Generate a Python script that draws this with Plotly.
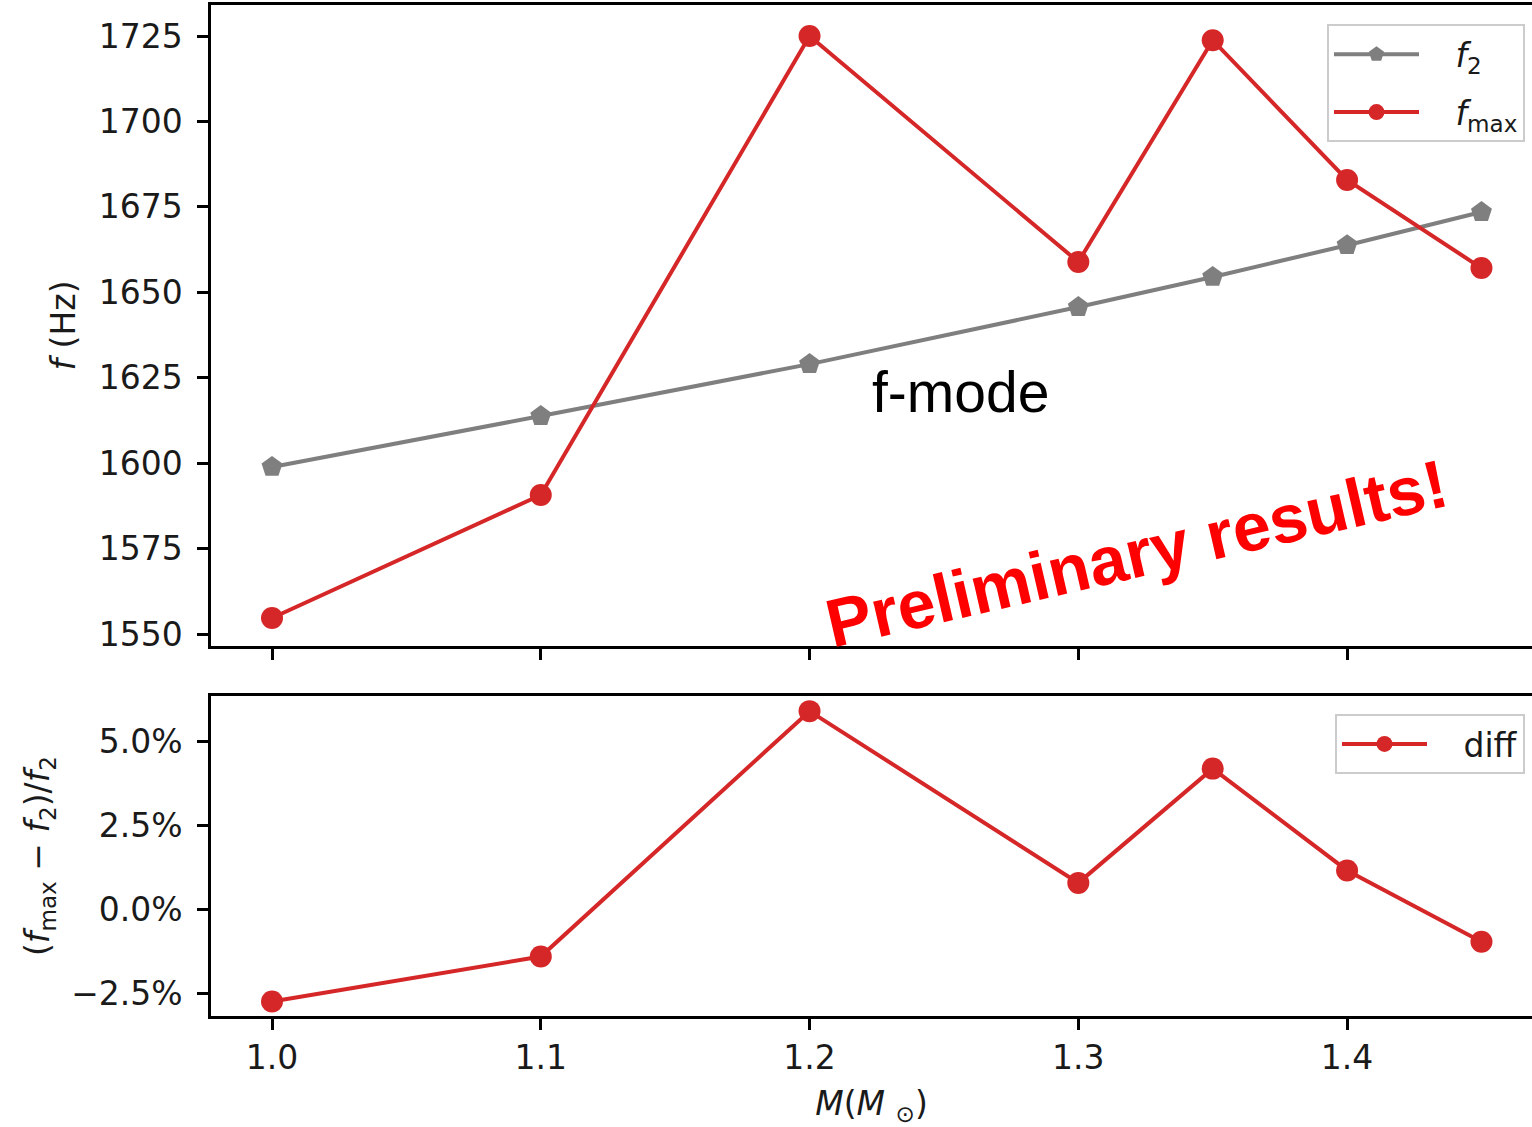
import plotly.graph_objects as go

# Stellar mass (solar masses)
mass = [1.0, 1.1, 1.2, 1.3, 1.35, 1.4, 1.45]
# f-mode frequency f2 and peak frequency fmax (Hz)
f2 = [1598.9, 1613.8, 1629.0, 1645.7, 1654.5, 1663.8, 1673.5]
fmax = [1554.7, 1590.7, 1725.0, 1658.9, 1723.8, 1682.9, 1657.1]
# relative difference (fmax - f2) / f2, in percent
diff_pct = [-2.75, -1.41, 5.89, 0.78, 4.18, 1.15, -0.97]

top_ticks = [1550, 1575, 1600, 1625, 1650, 1675, 1700, 1725]
bottom_ticks = [-2.5, 0.0, 2.5, 5.0]
x_ticks = [1.0, 1.1, 1.2, 1.3, 1.4]

RED = "#d62728"
GRAY = "#7f7f7f"
FONT = "DejaVu Sans"
FS = 33
PAD = "&nbsp;&nbsp;&nbsp;"

fig = go.Figure()
fig.add_trace(go.Scatter(
    x=mass, y=f2, name=PAD + "<i>f</i><sub>2</sub>", mode="lines+markers",
    line=dict(color=GRAY, width=4),
    marker=dict(symbol="pentagon", size=22, color=GRAY),
    xaxis="x2", yaxis="y2", legend="legend", legendgroup="f2",
))
fig.add_trace(go.Scatter(
    x=mass, y=fmax, name=PAD + "<i>f</i><sub>max</sub>", mode="lines+markers",
    line=dict(color=RED, width=4),
    marker=dict(symbol="circle", size=22, color=RED),
    xaxis="x2", yaxis="y2", legend="legend", legendgroup="fmax",
))
fig.add_trace(go.Scatter(
    x=mass, y=diff_pct, name=PAD + "diff", mode="lines+markers",
    line=dict(color=RED, width=4),
    marker=dict(symbol="circle", size=22, color=RED),
    xaxis="x", yaxis="y", legend="legend2",
))

axis_common = dict(
    showline=True, linecolor="black", linewidth=2.5,
    ticks="outside", ticklen=11, tickwidth=2.5, tickcolor="black",
    showgrid=False, zeroline=False,
    tickfont=dict(family=FONT, size=FS, color="#1a1a1a"),
)

xr = [0.9773, 1.4688]

legend_common = dict(
    bgcolor="white", bordercolor="#cccccc", borderwidth=2,
    font=dict(family=FONT, size=FS, color="#1a1a1a"),
    xanchor="right", yanchor="top", itemwidth=85,
    tracegroupgap=12,
)

fig.update_layout(
    width=1532, height=1127,
    margin=dict(l=211, r=0, t=5, b=111),
    paper_bgcolor="white", plot_bgcolor="white",
    showlegend=True,
    xaxis=dict(
        **axis_common, domain=[0, 1], anchor="y", range=xr,
        tickvals=x_ticks, ticktext=[f"{v:.1f}" for v in x_ticks],
        mirror=True, ticklabelstandoff=0,
        title=dict(text="<i>M</i>(<i>M</i> <sub>⊙</sub>)",
                   font=dict(family=FONT, size=FS, color="#1a1a1a"), standoff=20),
    ),
    yaxis=dict(
        **axis_common, domain=[0, 0.3165], anchor="x",
        range=[-3.18, 6.34], tickvals=bottom_ticks,
        ticktext=[(f"{v:.1f}%").replace("-", "\u2212") for v in bottom_ticks],
        ticklabelstandoff=8,
        title=dict(text="(<i>f</i><sub>max</sub> \u2212 <i>f</i><sub>2</sub>)/<i>f</i><sub>2</sub>",
                   font=dict(family=FONT, size=FS, color="#1a1a1a"), standoff=12),
    ),
    xaxis2=dict(
        **axis_common, domain=[0, 1], anchor="y2", range=xr, matches="x",
        tickvals=x_ticks, showticklabels=False, mirror=True,
    ),
    yaxis2=dict(
        **axis_common, domain=[0.366, 1], anchor="x2",
        range=[1546.5, 1734.1], tickvals=top_ticks,
        ticklabelstandoff=8,
        title=dict(text="<i>f</i> (Hz)",
                   font=dict(family=FONT, size=FS, color="#1a1a1a"), standoff=14),
    ),
    legend=dict(**legend_common, x=0.9947, y=0.981),
    legend2=dict(**legend_common, x=0.9947, y=0.2987),
)

fig.add_annotation(
    x=1.256, y=1620.8, xref="x2", yref="y2", text="f-mode", showarrow=False,
    font=dict(family="Liberation Sans", size=57, color="black"),
    xanchor="center", yanchor="middle",
)
fig.add_annotation(
    x=1.3217, y=1573.7, xref="x2", yref="y2", text="<b>Preliminary results!</b>",
    showarrow=False, textangle=-13,
    font=dict(family="Liberation Sans", size=68, color="#ff0000"),
    xanchor="center", yanchor="middle",
)

fig.write_html("out.html")
